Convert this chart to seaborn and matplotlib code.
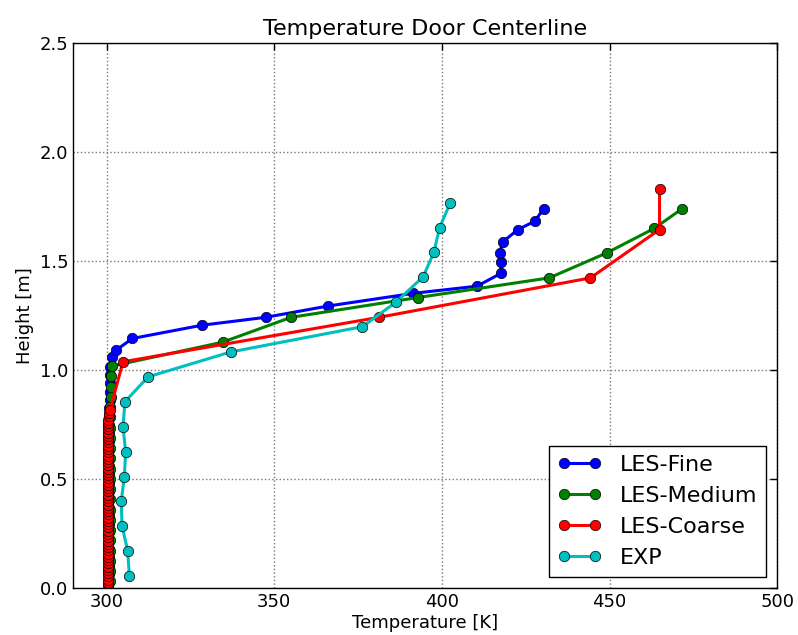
import numpy as np
import pandas as pd
import matplotlib
matplotlib.use("Agg")
import matplotlib.pyplot as plt
import seaborn as sns

# LES-Fine profile
fine_h = [0.027, 0.065, 0.103, 0.141, 0.179, 0.217, 0.255, 0.293, 0.331, 0.369,
          0.407, 0.445, 0.483, 0.521, 0.559, 0.597, 0.635, 0.673, 0.711, 0.749,
          0.787, 0.825, 0.863, 0.901, 0.939, 0.977, 1.015, 1.058, 1.092, 1.145,
          1.206, 1.242, 1.294, 1.352, 1.385, 1.444, 1.497, 1.538, 1.589, 1.645,
          1.683, 1.740]
fine_T = [300.8, 300.8, 300.8, 300.8, 300.8, 300.8, 300.8, 300.8, 300.8, 300.8,
          300.8, 300.8, 300.8, 300.8, 300.8, 300.8, 300.8, 300.8, 300.8, 300.8,
          300.8, 300.8, 300.9, 300.9, 300.9, 300.9, 301.0, 301.5, 302.9, 307.7,
          328.5, 347.4, 366.1, 391.4, 410.5, 417.6, 417.6, 417.2, 418.2, 422.7,
          427.7, 430.3]

# LES-Medium profile
medium_h = [0.031, 0.078, 0.125, 0.172, 0.219, 0.266, 0.313, 0.360, 0.407, 0.454,
            0.501, 0.548, 0.595, 0.642, 0.689, 0.736, 0.783, 0.830, 0.877, 0.924,
            0.971, 1.018, 1.128, 1.242, 1.333, 1.423, 1.538, 1.650, 1.740]
medium_T = [301.1, 301.1, 301.1, 301.1, 301.1, 301.1, 301.1, 301.1, 301.1, 301.1,
            301.1, 301.1, 301.1, 301.1, 301.1, 301.1, 301.1, 301.1, 301.2, 301.2,
            301.2, 301.5, 334.6, 355.0, 392.9, 432.0, 449.2, 463.3, 471.6]

# LES-Coarse profile
coarse_h = [0.008, 0.023, 0.038, 0.053, 0.068, 0.083, 0.098, 0.113, 0.128, 0.143,
            0.158, 0.173, 0.188, 0.203, 0.218, 0.233, 0.248, 0.263, 0.278, 0.293,
            0.308, 0.323, 0.338, 0.353, 0.368, 0.383, 0.398, 0.413, 0.428, 0.443,
            0.458, 0.473, 0.488, 0.503, 0.518, 0.533, 0.548, 0.563, 0.578, 0.593,
            0.608, 0.623, 0.638, 0.653, 0.668, 0.683, 0.698, 0.713, 0.728, 0.743,
            0.758, 0.773, 0.788, 0.803, 0.815, 1.038, 1.242, 1.423, 1.645, 1.829]
coarse_T = [300.4, 300.4, 300.4, 300.4, 300.4, 300.4, 300.4, 300.4, 300.4, 300.4,
            300.4, 300.4, 300.4, 300.4, 300.4, 300.4, 300.4, 300.4, 300.4, 300.4,
            300.4, 300.4, 300.4, 300.4, 300.4, 300.4, 300.4, 300.4, 300.4, 300.4,
            300.4, 300.4, 300.4, 300.4, 300.4, 300.4, 300.4, 300.4, 300.4, 300.4,
            300.4, 300.4, 300.4, 300.4, 300.4, 300.4, 300.4, 300.5, 300.5, 300.5,
            300.5, 300.5, 300.6, 300.7, 301.0, 304.9, 381.2, 444.3, 464.9, 464.9]

# Experimental data
exp_h = [0.056, 0.171, 0.286, 0.400, 0.511, 0.625, 0.740, 0.855, 0.969, 1.083,
         1.199, 1.313, 1.428, 1.540, 1.653, 1.768]
exp_T = [306.8, 306.3, 304.6, 304.4, 305.3, 305.7, 304.9, 305.5, 312.4, 337.0,
         376.3, 386.4, 394.4, 397.6, 399.3, 402.5]

labels = ["LES-Fine", "LES-Medium", "LES-Coarse", "EXP"]
colors = ["#0000ff", "#008000", "#ff0000", "#00bfbf"]

frames = []
for name, T, h in zip(labels, [fine_T, medium_T, coarse_T, exp_T],
                      [fine_h, medium_h, coarse_h, exp_h]):
    frames.append(pd.DataFrame({"T": T, "h": h, "case": name}))
df = pd.concat(frames, ignore_index=True)

sns.set_style("white")
plt.rcParams["font.family"] = ["DejaVu Sans"]
plt.rcParams["xtick.direction"] = "in"
plt.rcParams["ytick.direction"] = "in"
plt.rcParams["text.color"] = "black"
plt.rcParams["axes.labelcolor"] = "black"
plt.rcParams["xtick.color"] = "black"
plt.rcParams["ytick.color"] = "black"

fig = plt.figure(figsize=(7.98, 6.35), dpi=100)
ax = fig.add_axes([0.0915, 0.074, 0.8825, 0.858])

for name, col in zip(labels, colors):
    sub = df[df["case"] == name]
    sns.lineplot(x=sub["T"], y=sub["h"], ax=ax, sort=False, estimator=None,
                 color=col, linewidth=2.2, marker="o", markersize=7.5,
                 markeredgecolor="black", markeredgewidth=0.5, label=name)

ax.set_xlim(290, 500)
ax.set_ylim(0, 2.5)
ax.set_xticks([300, 350, 400, 450, 500])
ax.set_yticks([0.0, 0.5, 1.0, 1.5, 2.0, 2.5])
ax.grid(True, color="#777777", linestyle=":", linewidth=1.0)
ax.tick_params(axis="both", labelsize=13, length=5, width=1, color="black",
               labelcolor="black", top=True, right=True)
for sp in ax.spines.values():
    sp.set_color("black")
    sp.set_linewidth(1.0)

ax.set_title("Temperature Door Centerline", fontsize=16, color="black")
ax.set_xlabel("Temperature [K]", fontsize=13, labelpad=2, color="black")
ax.set_ylabel("Height [m]", fontsize=13, color="black")

leg = ax.legend(loc="lower right", fontsize=16, numpoints=2, fancybox=False,
                edgecolor="black", framealpha=1, handlelength=2.0)
leg.get_frame().set_linewidth(1.0)
for t in leg.get_texts():
    t.set_color("black")

plt.savefig("out.png", dpi=100)
